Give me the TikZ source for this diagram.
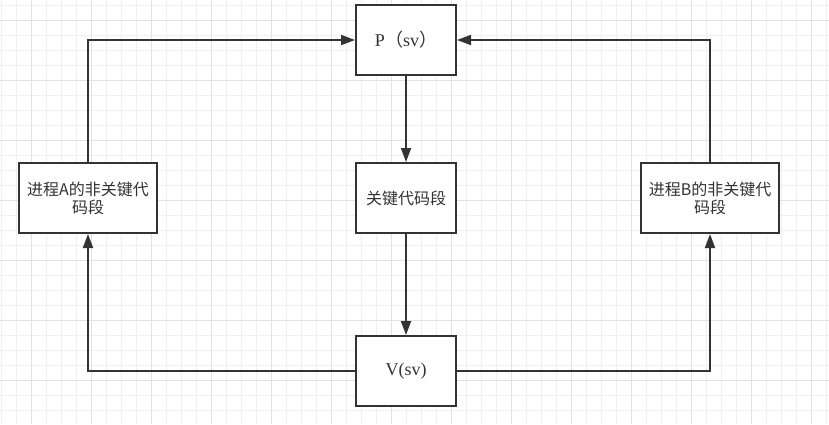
\documentclass[tikz,border=0pt]{standalone}
\usepackage{fontspec}
\setmainfont{Liberation Serif}
\newfontfamily\cjk{Noto Sans CJK SC}
\usetikzlibrary{arrows.meta}

\definecolor{gridminor}{HTML}{F0F0F0}
\definecolor{gridmajor}{HTML}{E2E2E2}
\definecolor{ink}{HTML}{333333}

\begin{document}
\begin{tikzpicture}[x=1pt, y=-1pt,
    box/.style={draw=ink, line width=2pt, fill=white, inner sep=0pt,
                minimum height=70pt},
    narrowbox/.style={box, minimum width=100pt},
    widebox/.style={box, minimum width=138pt},
    conn/.style={draw=ink, line width=1.9pt, -{Triangle[length=14pt,width=10pt]}},
    label/.style={font=\cjk\fontsize{16}{18}\selectfont, text=ink, align=center}]
    \useasboundingbox (0,0) rectangle (829,424);
    \fill[white] (0,0) rectangle (829,424);

    % Background grid
    \foreach \i in {0,...,55}
        \draw[gridminor, line width=0.8pt] (1.7+15*\i,0) -- (1.7+15*\i,424);
    \foreach \i in {0,...,28}
        \draw[gridminor, line width=0.8pt] (0,5+15*\i) -- (829,5+15*\i);
    \foreach \i in {0,...,13}
        \draw[gridmajor, line width=0.8pt] (31.7+60*\i,0) -- (31.7+60*\i,424);
    \foreach \i in {0,...,6}
        \draw[gridmajor, line width=0.8pt] (0,20+60*\i) -- (829,20+60*\i);

    % Boxes
    \node[narrowbox] (p) at (406,40)
        {\fontsize{18}{20}\selectfont\color{ink}P{\cjk （}sv{\cjk ）}};
    \node[narrowbox, label] (crit) at (406,198) {关键代码段};
    \node[narrowbox] (v) at (406,371)
        {\fontsize{18}{20}\selectfont\color{ink}V(sv)};
    \node[widebox, label] (procA) at (88,198) {进程A的非关键代\\码段};
    \node[widebox, label] (procB) at (710,198) {进程B的非关键代\\码段};

    % Connectors
    \draw[conn] (procA.north) |- (p.west);
    \draw[conn] (procB.north) |- (p.east);
    \draw[conn] (p) -- (crit);
    \draw[conn] (crit) -- (v);
    \draw[conn] (v.west) -| (procA.south);
    \draw[conn] (v.east) -| (procB.south);
\end{tikzpicture}
\end{document}
